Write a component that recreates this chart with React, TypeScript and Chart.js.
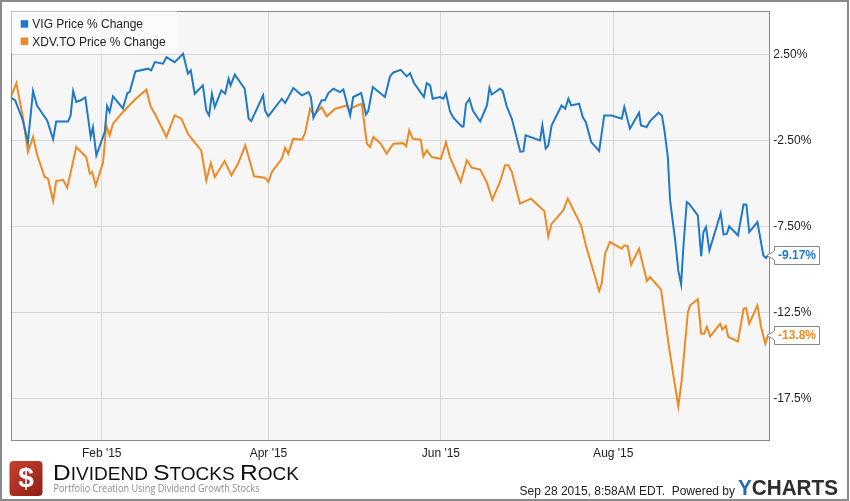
import React, { useEffect, useRef } from "react";
import { Chart, registerables } from "chart.js";

Chart.register(...registerables);

// ---- Data (x = days since Jan 1 2015, y = % change) ----
const seriesNames = ["VIG Price % Change", "XDV.TO Price % Change"];
const seriesColors = ["#2079c7", "#ee8a24"];

const vigDays = [-1.2, 0.4, 3.1, 4.9, 6.7, 8.1, 11.7, 13.8, 14.9, 19.1, 20.0, 20.9, 22.0, 23.6, 25.2, 27.1, 27.9, 29.1, 32.1, 32.9, 33.8, 35.0, 38.5, 40.1, 40.9, 42.9, 47.4, 48.5, 49.8, 52.7, 53.9, 56.8, 59.8, 61.5, 62.5, 63.9, 66.8, 68.0, 69.0, 70.0, 71.0, 73.3, 74.7, 75.9, 76.6, 78.1, 81.6, 83.0, 83.9, 88.1, 88.8, 89.9, 94.7, 95.9, 98.8, 101.8, 104.2, 105.0, 105.9, 108.8, 110.0, 111.2, 113.0, 115.3, 116.5, 118.9, 120.0, 122.8, 124.5, 125.3, 126.9, 131.2, 133.0, 134.2, 136.8, 138.9, 140.1, 141.5, 145.0, 146.0, 147.2, 148.1, 150.7, 151.9, 152.8, 154.2, 155.4, 158.4, 159.0, 159.9, 161.1, 162.3, 164.9, 167.3, 168.2, 169.0, 171.9, 172.9, 174.3, 176.1, 179.1, 180.2, 181.0, 186.1, 186.9, 188.1, 189.0, 190.2, 193.7, 195.0, 196.1, 197.1, 199.9, 201.2, 202.3, 204.2, 207.0, 208.8, 211.5, 215.0, 215.9, 217.9, 221.1, 221.8, 223.8, 225.0, 228.0, 229.2, 230.1, 231.3, 232.1, 233.9, 235.0, 236.0, 236.8, 238.0, 238.8, 241.9, 243.1, 243.9, 244.8, 246.0, 250.0, 251.0, 252.2, 253.0, 256.1, 258.1, 259.1, 260.1, 263.0, 265.1, 266.0, 266.8];
const vigValues = [0.0, -0.17, -1.34, -2.6, 0.37, -0.47, -1.34, -2.44, -1.4, -1.4, -1.05, 0.37, -0.27, -0.17, 0.0, -2.3, -1.74, -3.37, -2.0, -0.5, -0.85, 0.06, -0.64, 0.25, 0.31, 1.51, 1.67, 1.57, 2.05, 1.96, 2.34, 2.05, 2.54, 1.38, 1.57, 0.21, 0.70, -0.76, -1.05, 0.21, -0.56, 0.41, 0.21, 1.09, 0.7, 1.32, 0.5, -1.24, -1.38, 0.12, -0.76, -1.1, -0.08, -0.33, 0.54, 0.12, 0.31, 0.02, -1.18, -0.17, -0.17, 0.25, 0.5, 0.31, 0.46, -1.05, 0.02, 0.25, -1.0, -0.8, 0.6, 0.02, 1.22, 1.45, 1.6, 1.22, 1.41, 0.83, 0.02, 0.83, 0.7, -0.08, 0.02, -0.08, 0.25, -0.8, -1.18, -1.69, -1.69, -0.37, -0.08, -0.76, -1.4, -0.47, 0.56, 0.17, 0.5, 0.37, -0.52, -1.24, -3.16, -3.14, -2.21, -2.5, -1.63, -2.98, -2.79, -1.63, -0.47, -0.66, -0.08, -0.47, -0.37, -1.14, -1.44, -2.6, -3.12, -1.05, -1.05, -1.24, -0.56, -1.82, -0.89, -1.63, -1.72, -1.38, -0.89, -1.05, -1.92, -3.47, -5.99, -8.31, -10.06, -10.87, -8.7, -6.09, -6.18, -6.86, -9.24, -7.83, -7.54, -8.9, -6.73, -7.98, -7.93, -7.5, -8.02, -6.22, -6.24, -7.83, -7.25, -9.19, -9.34, -9.17];

const xdvDays = [-1.2, 0.8, 3.1, 4.9, 6.7, 8.2, 10.8, 12.0, 13.8, 14.9, 17.3, 18.8, 22.0, 25.5, 26.8, 27.6, 28.9, 31.5, 32.6, 33.8, 35.0, 38.5, 42.7, 46.8, 48.3, 49.8, 53.9, 56.8, 59.2, 61.5, 63.3, 66.2, 68.0, 69.6, 71.0, 74.5, 76.9, 79.2, 81.8, 84.9, 88.7, 90.0, 91.2, 94.7, 95.9, 97.0, 98.8, 101.8, 102.9, 104.7, 106.1, 108.8, 110.6, 113.6, 117.7, 118.9, 119.5, 123.0, 124.8, 125.9, 127.1, 129.7, 131.8, 134.2, 137.7, 138.7, 139.8, 141.0, 143.9, 144.8, 146.0, 147.8, 151.0, 152.8, 154.2, 158.0, 160.2, 161.9, 164.9, 167.2, 169.2, 171.9, 173.7, 174.9, 176.1, 179.0, 182.9, 186.7, 187.6, 189.0, 190.2, 194.3, 195.9, 200.6, 202.3, 207.0, 207.9, 209.1, 210.8, 215.0, 215.9, 217.1, 218.3, 221.1, 223.9, 225.0, 228.9, 231.7, 235.0, 236.2, 238.4, 239.2, 241.9, 243.1, 244.2, 245.1, 246.3, 249.8, 250.6, 251.8, 252.7, 256.1, 258.1, 259.0, 260.1, 263.0, 264.3, 265.8, 266.8];
const xdvValues = [0.0, 0.83, -1.14, -3.18, -2.3, -3.37, -4.63, -4.73, -6.03, -4.87, -4.79, -5.25, -2.89, -3.47, -4.44, -4.34, -5.12, -3.76, -1.63, -2.21, -1.53, -0.85, -0.14, 0.45, -0.52, -0.95, -2.3, -1.05, -1.24, -2.11, -2.5, -3.08, -4.83, -3.82, -4.63, -3.7, -4.53, -3.86, -2.79, -4.59, -4.67, -4.92, -4.34, -3.57, -2.93, -3.27, -2.4, -2.46, -2.11, -0.66, -1.05, -0.56, -1.1, -0.66, -0.47, -0.85, -0.6, -0.37, -2.69, -2.89, -2.3, -2.69, -3.27, -2.69, -2.66, -2.85, -1.92, -2.4, -2.46, -3.43, -3.08, -3.47, -3.57, -2.6, -3.47, -4.92, -3.66, -4.09, -4.2, -4.92, -5.95, -4.92, -3.95, -3.95, -4.34, -6.18, -5.89, -6.47, -6.6, -8.08, -7.34, -6.57, -5.89, -7.44, -8.6, -11.26, -10.83, -9.09, -8.41, -8.8, -8.6, -8.64, -9.73, -8.8, -10.68, -10.45, -11.18, -14.52, -17.97, -16.45, -12.48, -12.09, -11.74, -13.74, -13.74, -13.35, -13.9, -13.16, -13.5, -13.3, -13.93, -14.19, -12.29, -12.25, -13.16, -12.09, -13.35, -14.32, -13.8];

const xTickDays = [31, 90, 151, 212];
const xTickLabels = ["Feb '15", "Apr '15", "Jun '15", "Aug '15"];
const yTickValues = [2.5, -2.5, -7.5, -12.5, -17.5];
const yTickLabels = ["2.50%", "-2.50%", "-7.50%", "-12.5%", "-17.5%"];

const brandTitle = [["D", 1], ["IVIDEND ", 0], ["S", 1], ["TOCKS ", 0], ["R", 1], ["OCK", 0]] as [string, number][];
const brandSubtitle = "Portfolio Creation Using Dividend Growth Stocks";
const stampText = "Sep 28 2015, 8:58AM EDT.  Powered by";

const FONT = "'Liberation Sans', Arial, sans-serif";

const backgroundPlugin = {
  id: "bg",
  beforeDraw(chart: any) {
    const { ctx, chartArea: a } = chart;
    ctx.save();
    ctx.fillStyle = "#ffffff";
    ctx.fillRect(0, 0, chart.width, chart.height);
    ctx.fillStyle = "#f6f6f6";
    ctx.fillRect(a.left, a.top, a.right - a.left, a.bottom - a.top);
    ctx.restore();
  },
};

const overlayPlugin = {
  id: "overlay",
  afterDatasetsDraw(chart: any) {
    const { ctx, chartArea: a } = chart;
    ctx.save();
    // plot border
    ctx.strokeStyle = "#8a8a8a";
    ctx.lineWidth = 1;
    ctx.strokeRect(Math.round(a.left) + 0.5, Math.round(a.top) + 0.5, Math.round(a.right - a.left) - 1, Math.round(a.bottom - a.top) - 1);
    // legend
    ctx.fillStyle = "rgba(255,255,255,0.6)";
    ctx.fillRect(a.left + 0.5, a.top + 0.5, 166, 42);
    chart.data.datasets.forEach((ds: any, i: number) => {
      const y = a.top + 9.5 + i * 17.3;
      ctx.fillStyle = ds.borderColor;
      ctx.fillRect(a.left + 10, y, 7.5, 7.5);
      ctx.fillStyle = "#222";
      ctx.font = `12px ${FONT}`;
      ctx.textBaseline = "alphabetic";
      ctx.textAlign = "left";
      ctx.fillText(ds.label, a.left + 21.6, y + 8);
    });
    ctx.restore();
  },
  afterDraw(chart: any) {
    const { ctx, chartArea: a } = chart;
    ctx.save();
    // end-value callouts
    chart.data.datasets.forEach((ds: any, i: number) => {
      const meta = chart.getDatasetMeta(i);
      const last = meta.data[meta.data.length - 1];
      const val = ds.data[ds.data.length - 1].y;
      const txt = val.toPrecision(3) + "%";
      ctx.font = `bold 12px ${FONT}`;
      const w = Math.round(ctx.measureText(txt).width + 7);
      const h = 18;
      const bx = Math.round(a.right + 5) + 0.5;
      const cy = Math.round(last.y) + 0.5;
      const top = cy - h / 2;
      ctx.beginPath();
      ctx.moveTo(bx, top);
      ctx.lineTo(bx + w, top);
      ctx.lineTo(bx + w, top + h);
      ctx.lineTo(bx, top + h);
      ctx.lineTo(bx, cy + 4.5);
      ctx.lineTo(bx - 7.5, cy);
      ctx.lineTo(bx, cy - 4.5);
      ctx.closePath();
      ctx.fillStyle = "#ffffff";
      ctx.fill();
      ctx.strokeStyle = "#8a8a8a";
      ctx.lineWidth = 1;
      ctx.stroke();
      ctx.fillStyle = ds.borderColor;
      ctx.textAlign = "center";
      ctx.textBaseline = "middle";
      ctx.fillText(txt, bx + w / 2, cy + 0.5);
    });

    // outer frame
    ctx.strokeStyle = "#8a8a8a";
    ctx.lineWidth = 2;
    ctx.strokeRect(1, 1, chart.width - 3, chart.height - 2);

    // brand logo (red square with $)
    const lx = 9.5, ly = 461, lw = 33, lh = 35;
    const g = ctx.createLinearGradient(lx, ly, lx + lw, ly + lh);
    g.addColorStop(0, "#c9412f");
    g.addColorStop(1, "#8e1f16");
    ctx.beginPath();
    ctx.roundRect(lx, ly, lw, lh, 4);
    ctx.fillStyle = g;
    ctx.fill();
    ctx.fillStyle = "#ffffff";
    ctx.font = `bold 28px ${FONT}`;
    ctx.textAlign = "center";
    ctx.textBaseline = "middle";
    ctx.fillText("$", lx + lw / 2, ly + lh / 2 + 1);

    // brand title in small caps
    ctx.textAlign = "left";
    ctx.textBaseline = "alphabetic";
    let total = 0;
    const widths = brandTitle.map(([t, big]) => {
      ctx.font = `${big ? 22.5 : 17.5}px ${FONT}`;
      const m = ctx.measureText(t).width;
      total += m;
      return m;
    });
    ctx.save();
    ctx.translate(53, 479.5);
    ctx.scale(246 / total, 1);
    let x = 0;
    brandTitle.forEach(([t, big], k) => {
      ctx.font = `${big ? 22.5 : 17.5}px ${FONT}`;
      ctx.fillStyle = "#111";
      ctx.fillText(t, x, 0);
      x += widths[k];
    });
    ctx.restore();

    // subtitle
    ctx.font = `10px 'Open Sans', sans-serif`;
    const sw = ctx.measureText(brandSubtitle).width;
    ctx.save();
    ctx.translate(53.5, 492);
    ctx.scale(206 / sw, 1);
    ctx.fillStyle = "#8c8c8c";
    ctx.fillText(brandSubtitle, 0, 0);
    ctx.restore();

    // timestamp + powered by
    ctx.font = `12px ${FONT}`;
    ctx.fillStyle = "#222";
    ctx.textAlign = "right";
    ctx.fillText(stampText, 735, 495);

    // YCHARTS
    ctx.textAlign = "left";
    ctx.font = `bold 22px ${FONT}`;
    const wy = ctx.measureText("Y").width;
    const wc = ctx.measureText("CHARTS").width;
    ctx.save();
    ctx.translate(738, 495);
    ctx.scale(100 / (wy + wc), 1);
    ctx.fillStyle = "#1f6db6";
    ctx.fillText("Y", 0, 0);
    ctx.fillStyle = "#2e2e2e";
    ctx.fillText("CHARTS", wy, 0);
    ctx.restore();

    ctx.restore();
  },
};

export default function App() {
  const ref = useRef<HTMLCanvasElement>(null);
  useEffect(() => {
    document.body.style.margin = "0";
    Chart.defaults.font.family = FONT;
    const chart = new Chart(ref.current as HTMLCanvasElement, {
      type: "line",
      data: {
        datasets: [
          {
            label: seriesNames[0],
            data: vigDays.map((d, i) => ({ x: d, y: vigValues[i] })),
            borderColor: seriesColors[0],
            backgroundColor: seriesColors[0],
            borderWidth: 2,
            pointRadius: 0,
            tension: 0,
            fill: false,
          },
          {
            label: seriesNames[1],
            data: xdvDays.map((d, i) => ({ x: d, y: xdvValues[i] })),
            borderColor: seriesColors[1],
            backgroundColor: seriesColors[1],
            borderWidth: 2,
            pointRadius: 0,
            tension: 0,
            fill: false,
          },
        ],
      },
      options: {
        animation: false,
        responsive: false,
        maintainAspectRatio: false,
        layout: { padding: { left: 10.7, top: 10.7, right: 0, bottom: 0 } },
        plugins: { legend: { display: false }, tooltip: { enabled: false } },
        scales: {
          x: {
            type: "linear",
            min: -1.2,
            max: 267.2,
            afterBuildTicks: (s: any) => {
              s.ticks = xTickDays.map((v) => ({ value: v }));
            },
            afterFit: (s: any) => {
              s.height = 60;
              s.paddingLeft = 0;
              s.paddingRight = 0;
            },
            ticks: {
              callback: (_v: any, i: number) => xTickLabels[i],
              color: "#222",
              font: { size: 12, family: FONT },
              padding: 5,
              maxRotation: 0,
              autoSkip: false,
            },
            grid: { color: "#d6d6d6", drawTicks: false, lineWidth: 1 },
            border: { display: false },
          },
          y: {
            type: "linear",
            position: "right",
            min: -19.98,
            max: 5.04,
            afterBuildTicks: (s: any) => {
              s.ticks = yTickValues.map((v) => ({ value: v }));
            },
            afterFit: (s: any) => {
              s.width = 80.7;
              s.paddingTop = 0;
              s.paddingBottom = 0;
            },
            ticks: {
              callback: (_v: any, i: number) => yTickLabels[i],
              color: "#222",
              font: { size: 12, family: FONT },
              padding: 4,
            },
            grid: { color: "#d6d6d6", drawTicks: false, lineWidth: 1 },
            border: { display: false },
          },
        },
      } as any,
      plugins: [backgroundPlugin, overlayPlugin],
    });
    return () => chart.destroy();
  }, []);
  return (
    <div style={{ width: 850, height: 501, position: "relative" }}>
      <canvas ref={ref} width={850} height={501} style={{ display: "block" }} />
    </div>
  );
}
